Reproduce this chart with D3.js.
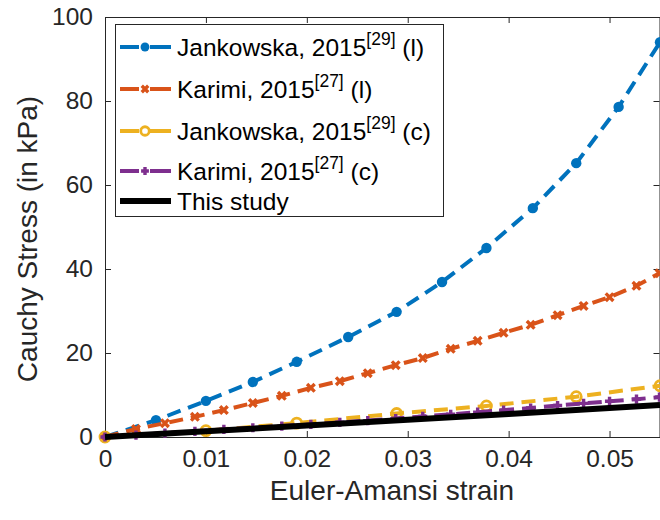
<!DOCTYPE html>
<html><head><meta charset="utf-8">
<script src="https://cdn.jsdelivr.net/npm/d3@7"></script>
<style>body{margin:0;background:#fff}svg{display:block}text{font-family:"Liberation Sans",Arial,Helvetica,sans-serif}</style>
</head><body><svg id="c" width="660" height="520"></svg>
<script>
const xTicks=[0,0.01,0.02,0.03,0.04,0.05];
const yTicks=[0,20,40,60,80,100];
const jankowskaL_strain=[0,0.00505,0.0100,0.01465,0.0190,0.0241,0.0289,0.0334,0.0378,0.0424,0.0467,0.0509,0.0550];
const jankowskaL_stress=[0,4.0,8.6,13.1,17.9,23.8,29.8,36.9,45.0,54.5,65.2,78.6,94.0];
const jankowskaC_strain=[0,0.0100,0.0190,0.0289,0.0378,0.0467,0.0550];
const jankowskaC_stress=[0,1.5,3.3,5.6,7.4,9.6,12.2];
const karimi_strain=[0,0.00307,0.00594,0.00891,0.01178,0.01465,0.01752,0.0204,0.02327,0.02604,0.02881,0.03149,0.03426,0.03693,0.0395,0.04218,0.04485,0.04743,0.05,0.05267,0.05495];
const karimiL_stress=[0,1.9,3.3,4.8,6.4,8.1,9.8,11.7,13.3,15.2,17.1,18.8,21.0,22.9,24.8,26.7,29.0,31.2,33.3,36.0,39.0];
const karimiC_stress=[0,0.45,0.9,1.35,1.8,2.2,2.6,3.0,3.5,3.9,4.4,4.9,5.4,5.9,6.4,6.9,7.5,8.0,8.5,9.0,9.5];
const study_strain=[0,0.01,0.02,0.03,0.04,0.05,0.055];
const study_stress=[0,1.35,2.75,4.1,5.5,6.9,7.6];

const seriesNames=["Jankowska, 2015","Karimi, 2015","Jankowska, 2015","Karimi, 2015","This study"];
const seriesRefs=["[29]","[27]","[29]","[27]",""];
const seriesTags=[" (l)"," (l)"," (c)"," (c)",""];
const colors=["#0072BD","#D95319","#EDB120","#7E2F8E","#000000"];
const markers=["dot","x","o","+",null];

const zip=(xs,ys)=>xs.map((x,i)=>[x,ys[i]]);
const series=[
  zip(jankowskaL_strain,jankowskaL_stress),
  zip(karimi_strain,karimiL_stress),
  zip(jankowskaC_strain,jankowskaC_stress),
  zip(karimi_strain,karimiC_stress),
  zip(study_strain,study_stress)
];

const svg=d3.select("#c");
const L=105,R=660,T=17,B=437;
const x=d3.scaleLinear().domain([0,0.055]).range([L,R]);
const y=d3.scaleLinear().domain([0,100]).range([B,T]);
const axCol="#262626";

const gx=svg.append("g").attr("transform",`translate(0,${B})`)
  .call(d3.axisBottom(x).tickValues(xTicks).tickSize(-6).tickPadding(13).tickFormat(d=>d===0?"0":d3.format(".2f")(d)));
const gxt=svg.append("g").attr("transform",`translate(0,${T})`)
  .call(d3.axisTop(x).tickValues(xTicks).tickSize(-6).tickFormat(""));
const gy=svg.append("g").attr("transform",`translate(${L},0)`)
  .call(d3.axisLeft(y).tickValues(yTicks).tickSize(-6).tickPadding(12));
const gyr=svg.append("g").attr("transform",`translate(${R-0.5},0)`)
  .call(d3.axisRight(y).tickValues(yTicks).tickSize(-6).tickFormat(""));
[gx,gxt,gy,gyr].forEach(g=>{
  g.selectAll("path").attr("stroke",axCol).attr("stroke-width",1);
  g.selectAll("line").attr("stroke",axCol).attr("stroke-width",1);
  g.selectAll("text").attr("fill",axCol).style("font-size","24.5px").style("font-family","'Liberation Sans',Arial,sans-serif");
});

svg.append("text").attr("x",392).attr("y",500).attr("text-anchor","middle")
  .attr("fill",axCol).style("font-size","28px").text("Euler-Amansi strain");
svg.append("text").attr("transform",`translate(37,${239}) rotate(-90)`).attr("text-anchor","middle")
  .attr("fill",axCol).style("font-size","28px").text("Cauchy Stress (in kPa)");

function drawMarker(g,type,cx,cy,col,scale=1){
  if(type==="dot") g.append("circle").attr("cx",cx).attr("cy",cy).attr("r",5.2*scale).attr("fill",col);
  else if(type==="o") g.append("circle").attr("cx",cx).attr("cy",cy).attr("r",5*scale).attr("fill","none").attr("stroke",col).attr("stroke-width",2.8);
  else if(type==="x"){const s=3.8*scale;
    g.append("path").attr("d",`M${cx-s},${cy-s}L${cx+s},${cy+s}M${cx-s},${cy+s}L${cx+s},${cy-s}`).attr("stroke",col).attr("stroke-width",3.4);}
  else if(type==="+"){const s=4.6*scale;
    g.append("path").attr("d",`M${cx-s},${cy}L${cx+s},${cy}M${cx},${cy-s}L${cx},${cy+s}`).attr("stroke",col).attr("stroke-width",3.4);}
}

const line=d3.line().x(d=>x(d[0])).y(d=>y(d[1]));
series.forEach((s,i)=>{
  const g=svg.append("g");
  g.append("path").datum(s).attr("d",line).attr("fill","none").attr("stroke",colors[i])
    .attr("stroke-width",i===4?6:4).attr("stroke-dasharray",i===4?null:"14,8");
  if(markers[i]) s.forEach(d=>drawMarker(g,markers[i],x(d[0]),y(d[1]),colors[i]));
});

const lg=svg.append("g");
lg.append("rect").attr("x",115.5).attr("y",24.5).attr("width",328).attr("height",192)
  .attr("fill","#fff").attr("stroke",axCol).attr("stroke-width",1);
const rowY=[47,89,131,171,201];
seriesNames.forEach((n,i)=>{
  const cy=rowY[i];
  lg.append("line").attr("x1",120).attr("x2",171).attr("y1",cy).attr("y2",cy)
    .attr("stroke",colors[i]).attr("stroke-width",i===4?6:4)
    .attr("stroke-dasharray",i===4?null:"19,11,21");
  if(markers[i]) drawMarker(lg,markers[i],145,cy,colors[i],0.85);
  const t=lg.append("text").attr("x",177).attr("y",cy+9).attr("fill","#000").style("font-size","24.5px");
  t.append("tspan").text(n);
  if(seriesRefs[i]) t.append("tspan").attr("dy",-11).style("font-size","17.5px").text(seriesRefs[i]);
  if(seriesTags[i]) t.append("tspan").attr("dy",11).text(seriesTags[i]);
});
</script></body></html>
